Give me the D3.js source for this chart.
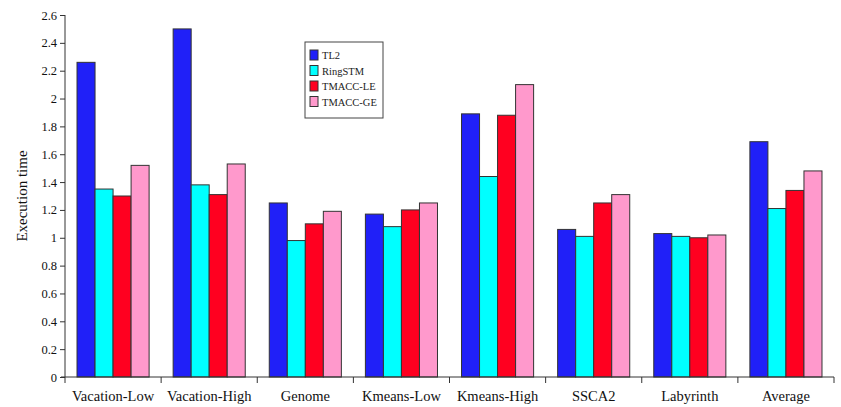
<!DOCTYPE html>
<html><head><meta charset="utf-8">
<script src="https://cdn.jsdelivr.net/npm/d3@7"></script>
<style>body{margin:0;background:#fff}svg{display:block}</style>
</head><body>
<svg id="c" width="841" height="407"></svg>
<script>
const categories = ["Vacation-Low","Vacation-High","Genome","Kmeans-Low","Kmeans-High","SSCA2","Labyrinth","Average"];
const seriesNames = ["TL2","RingSTM","TMACC-LE","TMACC-GE"];
const tl2 = [2.26,2.50,1.25,1.17,1.89,1.06,1.03,1.69];
const ringstm = [1.35,1.38,0.98,1.08,1.44,1.01,1.01,1.21];
const tmaccLE = [1.30,1.31,1.10,1.20,1.88,1.25,1.00,1.34];
const tmaccGE = [1.52,1.53,1.19,1.25,2.10,1.31,1.02,1.48];
const yTicks = [0,0.2,0.4,0.6,0.8,1,1.2,1.4,1.6,1.8,2,2.2,2.4,2.6];
const colors = ["#2020F8","#00FFFF","#FF0020","#FF99CC"];

const series = [tl2, ringstm, tmaccLE, tmaccGE];
const svg = d3.select("#c");
const mLeft = 65, mRight = 834, mTop = 15, mBottom = 377;
const x = d3.scaleBand().domain(categories).range([mLeft, mRight]).paddingInner(0.25).paddingOuter(0.125);
const xOuter = d3.scaleBand().domain(categories).range([mLeft, mRight]);
const xs = d3.scaleBand().domain(seriesNames).range([0, x.bandwidth()]);
const y = d3.scaleLinear().domain([0, 2.6]).range([mBottom, mTop]);

const g = svg.append("g");
categories.forEach((c, i) => {
  series.forEach((s, j) => {
    g.append("rect")
      .attr("x", x(c) + xs(seriesNames[j]))
      .attr("y", y(s[i]))
      .attr("width", xs.bandwidth())
      .attr("height", y(0) - y(s[i]))
      .attr("fill", colors[j])
      .attr("stroke", "#333")
      .attr("stroke-width", 1);
  });
});

// y axis
const yAxis = d3.axisLeft(y).tickValues(yTicks).tickSize(5).tickPadding(3).tickFormat(d3.format("~g"));
const ya = svg.append("g").attr("transform", `translate(${mLeft},0)`).call(yAxis);
ya.select(".domain").attr("stroke", "#333").attr("d", `M0,${mTop}V${mBottom}`);
ya.selectAll(".tick line").attr("stroke", "#333");
ya.selectAll("text").attr("font-family", "Liberation Serif, serif").attr("font-size", 12.5).attr("fill", "#111");

// x axis
const xa = svg.append("g").attr("transform", `translate(0,${mBottom})`);
xa.append("line").attr("x1", mLeft - 4).attr("x2", mRight).attr("stroke", "#333");
const bounds = categories.map(c => xOuter(c)).concat([mRight]);
xa.selectAll("line.t").data(bounds).enter().append("line").attr("class", "t")
  .attr("x1", d => d).attr("x2", d => d).attr("y1", 0).attr("y2", 6).attr("stroke", "#333");
xa.selectAll("text").data(categories).enter().append("text")
  .attr("x", d => xOuter(d) + xOuter.bandwidth() / 2)
  .attr("y", 24)
  .attr("text-anchor", "middle")
  .attr("font-family", "Liberation Serif, serif").attr("font-size", 14.5).attr("fill", "#111")
  .text(d => d);

// y title
svg.append("text").attr("transform", `translate(27,${(mTop + mBottom) / 2}) rotate(-90)`)
  .attr("text-anchor", "middle")
  .attr("font-family", "Liberation Serif, serif").attr("font-size", 15).attr("fill", "#111")
  .text("Execution time");

// legend
const lg = svg.append("g").attr("transform", "translate(305,42)");
lg.append("rect").attr("width", 78).attr("height", 76).attr("fill", "#fff").attr("stroke", "#444");
seriesNames.forEach((n, j) => {
  const yy = 8 + j * 15.5;
  lg.append("rect").attr("x", 5).attr("y", yy).attr("width", 8).attr("height", 10)
    .attr("fill", colors[j]).attr("stroke", "#333");
  lg.append("text").attr("x", 17).attr("y", yy + 9)
    .attr("font-family", "Liberation Serif, serif").attr("font-size", 10.5).attr("fill", "#222")
    .text(n);
});
</script>
</body></html>
